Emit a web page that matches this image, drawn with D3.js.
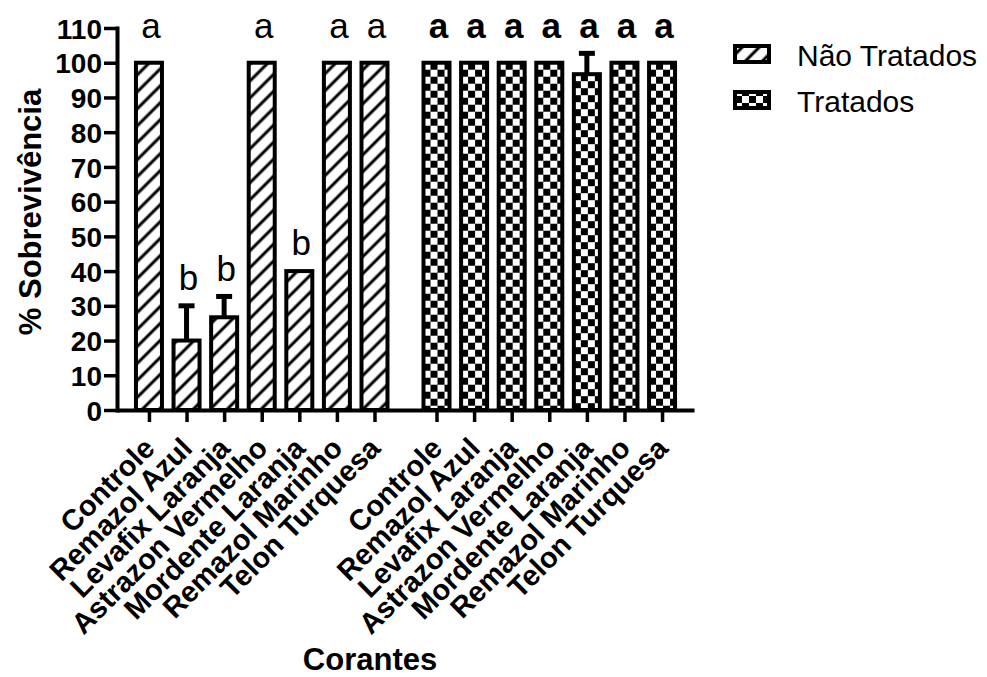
<!DOCTYPE html>
<html>
<head>
<meta charset="utf-8">
<script src="https://cdn.jsdelivr.net/npm/d3@7"></script>
<style>
  body { margin: 0; background: #fff; }
  text { font-family: Arial, "Liberation Sans", sans-serif; }
</style>
</head>
<body>
<div id="chart"></div>
<script>
// chart values
var corantes = ["Controle", "Remazol Azul", "Levafix Laranja", "Astrazon Vermelho",
                "Mordente Laranja", "Remazol Marinho", "Telon Turquesa"];
var naoTratados = [100, 20, 26.7, 100, 40, 100, 100];
var naoTratadosErro = [0, 10, 6, 0, 0, 0, 0];
var naoTratadosLetra = ["a", "b", "b", "a", "b", "a", "a"];
var tratados = [100, 100, 100, 100, 96.7, 100, 100];
var tratadosErro = [0, 0, 0, 0, 6, 0, 0];
var tratadosLetra = ["a", "a", "a", "a", "a", "a", "a"];
var yTicks = [0, 10, 20, 30, 40, 50, 60, 70, 80, 90, 100, 110];
var grupos = ["Não Tratados", "Tratados"];

var width = 987, height = 677;
var groupOffset = 7.65, barW = 26;

var svg = d3.select("#chart").append("svg")
    .attr("width", width)
    .attr("height", height);

var defs = svg.append("defs");

// diagonal hatch
defs.append("pattern")
    .attr("id", "hatch")
    .attr("patternUnits", "userSpaceOnUse")
    .attr("width", 12).attr("height", 12)
    .attr("patternTransform", "rotate(45)")
  .call(function(p) {
    p.append("rect").attr("width", 12).attr("height", 12).attr("fill", "white");
    p.append("line").attr("x1", 6).attr("x2", 6).attr("y1", 0).attr("y2", 12)
      .attr("stroke", "black").attr("stroke-width", 3);
  });

function checker(id, x0, y0) {
  var p = defs.append("pattern")
      .attr("id", id)
      .attr("patternUnits", "userSpaceOnUse")
      .attr("x", x0).attr("y", y0)
      .attr("width", 14).attr("height", 14);
  p.append("rect").attr("width", 14).attr("height", 14).attr("fill", "white");
  p.append("rect").attr("x", 7).attr("width", 7).attr("height", 7).attr("fill", "black");
  p.append("rect").attr("y", 7).attr("width", 7).attr("height", 7).attr("fill", "black");
}

var x = d3.scaleLinear().domain([-0.85, 14.5]).range([117, 694]);
var y = d3.scaleLinear().domain([0, 110]).range([410, 28]);

var data = [];
corantes.forEach(function(c, i) {
  data.push({g: 0, i: i, name: c, v: naoTratados[i], e: naoTratadosErro[i], l: naoTratadosLetra[i]});
});
corantes.forEach(function(c, i) {
  data.push({g: 1, i: i, name: c, v: tratados[i], e: tratadosErro[i], l: tratadosLetra[i]});
});
data.forEach(function(d) { d.slot = d.g * groupOffset + d.i; });

data.filter(function(d) { return d.g == 1; }).forEach(function(d) {
  checker("chk" + d.i, x(d.slot) - barW / 2, y(d.v));
});

// bars
svg.append("g").selectAll("rect")
    .data(data)
    .enter().append("rect")
    .attr("x", function(d) { return x(d.slot) - barW / 2; })
    .attr("y", function(d) { return y(d.v); })
    .attr("width", barW)
    .attr("height", function(d) { return y(0) - y(d.v); })
    .attr("fill", function(d) { return d.g == 0 ? "url(#hatch)" : "url(#chk" + d.i + ")"; })
    .attr("stroke", "black")
    .attr("stroke-width", 4);

// error bars (upper only)
var err = svg.append("g").selectAll("g")
    .data(data.filter(function(d) { return d.e > 0; }))
    .enter().append("g");
err.append("line")
    .attr("x1", function(d) { return x(d.slot); })
    .attr("x2", function(d) { return x(d.slot); })
    .attr("y1", function(d) { return y(d.v); })
    .attr("y2", function(d) { return y(d.v + d.e); })
    .attr("stroke", "black").attr("stroke-width", 5);
err.append("line")
    .attr("x1", function(d) { return x(d.slot) - 8; })
    .attr("x2", function(d) { return x(d.slot) + 8; })
    .attr("y1", function(d) { return y(d.v + d.e); })
    .attr("y2", function(d) { return y(d.v + d.e); })
    .attr("stroke", "black").attr("stroke-width", 5);

// significance letters
svg.append("g").selectAll("text")
    .data(data)
    .enter().append("text")
    .attr("x", function(d) { return x(d.slot) + 2; })
    .attr("y", function(d) {
      var top = d.v + d.e;
      return top >= 90 ? y(107) : y(top + 4.5);
    })
    .attr("text-anchor", "middle")
    .attr("font-size", "35px")
    .attr("font-weight", function(d) { return d.g == 1 ? "bold" : "normal"; })
    .text(function(d) { return d.l; });

// y axis
var yAxis = svg.append("g")
    .attr("transform", "translate(" + x.range()[0] + ",0)")
    .call(d3.axisLeft(y).tickValues(yTicks).tickSize(13).tickSizeOuter(0).tickPadding(2));
yAxis.select(".domain").attr("stroke-width", 4).attr("stroke-linecap", "square");
yAxis.selectAll(".tick line").attr("stroke-width", 3.5);
yAxis.selectAll(".tick text")
    .attr("font-size", "28px")
    .attr("font-weight", "bold")
    .attr("font-family", "Arial, 'Liberation Sans', sans-serif")
    .attr("fill", "black")
    .attr("dy", "0.36em");

// x axis
var ticks = data.map(function(d) { return d.slot; });
var xAxis = svg.append("g")
    .attr("transform", "translate(0," + y(0) + ")")
    .call(d3.axisBottom(x).tickValues(ticks).tickSize(12).tickSizeOuter(0)
      .tickFormat(function(s, k) { return data[k].name; }));
xAxis.select(".domain").attr("stroke-width", 4);
xAxis.selectAll(".tick line").attr("stroke-width", 3.5);
xAxis.selectAll(".tick text")
    .attr("font-size", "29px")
    .attr("font-weight", "bold")
    .attr("font-family", "Arial, 'Liberation Sans', sans-serif")
    .attr("fill", "black")
    .attr("text-anchor", "end")
    .attr("y", 0).attr("dy", 0)
    .attr("transform", "translate(7,40) rotate(-45)");

// axis titles
svg.append("text")
    .attr("transform", "translate(41,212) rotate(-90)")
    .attr("text-anchor", "middle")
    .attr("font-size", "31px")
    .attr("font-weight", "bold")
    .text("% Sobrevivência");

svg.append("text")
    .attr("x", 370)
    .attr("y", 670)
    .attr("text-anchor", "middle")
    .attr("font-size", "31px")
    .attr("font-weight", "bold")
    .text("Corantes");

// legend
checker("chkLeg", 735, 92);
var legend = svg.append("g").attr("transform", "translate(735,46)");
legend.selectAll("rect")
    .data(grupos)
    .enter().append("rect")
    .attr("x", 0)
    .attr("y", function(d, k) { return k * 46; })
    .attr("width", 34).attr("height", 16)
    .attr("fill", function(d, k) { return k == 0 ? "url(#hatch)" : "url(#chkLeg)"; })
    .attr("stroke", "black")
    .attr("stroke-width", 4);
legend.selectAll("text")
    .data(grupos)
    .enter().append("text")
    .attr("x", 62)
    .attr("y", function(d, k) { return k * 46 + 20; })
    .attr("font-size", "30px")
    .text(function(d) { return d; });
</script>
</body>
</html>
